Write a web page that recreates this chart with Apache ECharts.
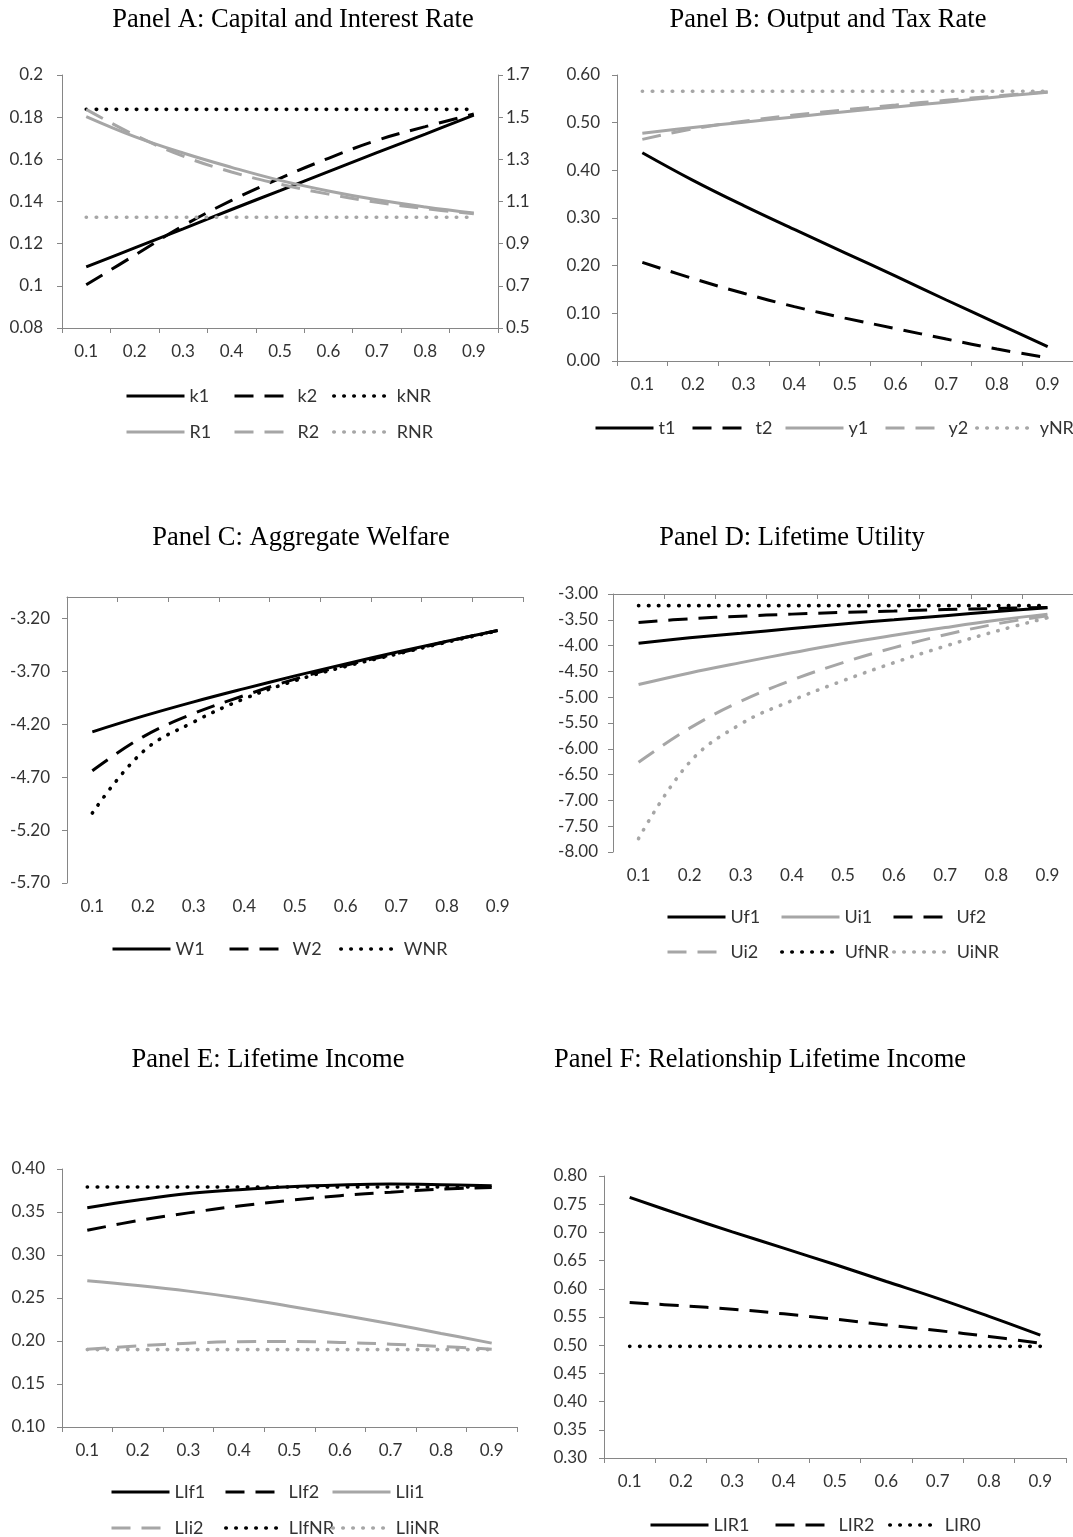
<!DOCTYPE html>
<html><head><meta charset="utf-8">
<script src="https://cdn.jsdelivr.net/npm/echarts@6/dist/echarts.min.js"></script>
<style>html,body{margin:0;padding:0;background:#fff}#c{width:1073px;height:1537px}</style>
</head><body><div id="c"></div>
<script>
// ---------- data ----------
const categories = ['0.1','0.2','0.3','0.4','0.5','0.6','0.7','0.8','0.9'];

// Panel A
const k1  = [0.109, 0.118, 0.127, 0.1362, 0.1452, 0.1542, 0.1632, 0.172, 0.181];
const k2  = [0.1005, 0.1145, 0.1285, 0.1405, 0.151, 0.1605, 0.169, 0.1755, 0.1815];
const kNR = [0.1837, 0.1837, 0.1837, 0.1837, 0.1837, 0.1837, 0.1837, 0.1837, 0.1837];
const R1  = [1.503, 1.408, 1.330, 1.262, 1.200, 1.150, 1.108, 1.074, 1.045];
const R2  = [1.537, 1.415, 1.315, 1.240, 1.182, 1.135, 1.096, 1.066, 1.042];
const RNR = [1.025, 1.025, 1.025, 1.025, 1.025, 1.025, 1.025, 1.025, 1.025];

// Panel B
const t1  = [0.437, 0.379, 0.326, 0.276, 0.227, 0.178, 0.128, 0.079, 0.030];
const t2  = [0.207, 0.173, 0.142, 0.114, 0.090, 0.068, 0.046, 0.025, 0.007];
const y1  = [0.478, 0.490, 0.501, 0.512, 0.523, 0.533, 0.543, 0.554, 0.564];
const y2  = [0.465, 0.487, 0.503, 0.516, 0.527, 0.537, 0.547, 0.556, 0.565];
const yNR = [0.566, 0.566, 0.566, 0.566, 0.566, 0.566, 0.566, 0.566, 0.566];

// Panel C
const W1  = [-4.273, -4.125, -3.99, -3.865, -3.745, -3.632, -3.522, -3.418, -3.316];
const W2  = [-4.64, -4.32, -4.10, -3.93, -3.775, -3.645, -3.535, -3.42, -3.316];
const WNR = [-5.04, -4.46, -4.18, -3.96, -3.79, -3.655, -3.54, -3.426, -3.32];

// Panel D
const Uf1  = [-3.955, -3.85, -3.76, -3.67, -3.58, -3.50, -3.42, -3.34, -3.265];
const Ui1  = [-4.755, -4.53, -4.33, -4.14, -3.96, -3.80, -3.65, -3.51, -3.39];
const Uf2  = [-3.55, -3.48, -3.43, -3.39, -3.355, -3.33, -3.30, -3.28, -3.26];
const Ui2  = [-6.26, -5.60, -5.08, -4.67, -4.33, -4.04, -3.79, -3.58, -3.42];
const UfNR = [-3.226, -3.226, -3.226, -3.226, -3.226, -3.226, -3.226, -3.226, -3.226];
const UiNR = [-7.74, -6.26, -5.52, -5.065, -4.68, -4.33, -4.01, -3.72, -3.46];

// Panel E
const LIf1  = [0.355, 0.364, 0.3715, 0.376, 0.3795, 0.3815, 0.3825, 0.3818, 0.3805];
const LIf2  = [0.3287, 0.340, 0.349, 0.357, 0.3635, 0.369, 0.373, 0.3765, 0.3786];
const LIi1  = [0.270, 0.2645, 0.258, 0.250, 0.2405, 0.2305, 0.220, 0.2088, 0.1975];
const LIi2  = [0.1904, 0.1943, 0.1975, 0.1992, 0.1994, 0.1984, 0.1963, 0.1937, 0.1905];
const LIfNR = [0.379, 0.379, 0.379, 0.379, 0.379, 0.379, 0.379, 0.379, 0.379];
const LIiNR = [0.19, 0.19, 0.19, 0.19, 0.19, 0.19, 0.19, 0.19, 0.19];

// Panel F
const LIR1 = [0.762, 0.731, 0.701, 0.672, 0.643, 0.613, 0.583, 0.551, 0.518];
const LIR2 = [0.5757, 0.570, 0.5639, 0.5556, 0.5462, 0.536, 0.526, 0.5155, 0.5037];
const LIR0 = [0.498, 0.498, 0.498, 0.498, 0.498, 0.498, 0.498, 0.498, 0.498];

const titles = ['Panel A: Capital and Interest Rate', 'Panel B: Output and Tax Rate',
  'Panel C: Aggregate Welfare', 'Panel D: Lifetime Utility',
  'Panel E: Lifetime Income', 'Panel F: Relationship Lifetime Income'];

// ---------- styling ----------
const BLACK = '#000000', GRAY = '#a6a6a6';
const AX = '#868686', TXT = '#333333', FONT = 'Lato';
const DASH = [19, 11], DOT = [0.5, 9.5];

function styleOf(kind, color) {
  if (kind === 'solid') return {color, width: 3, type: 'solid', cap: 'butt'};
  if (kind === 'dash') return {color, width: 3, type: DASH, cap: 'butt'};
  return {color, width: 3.6, type: DOT, cap: 'round'};
}
function ser(name, data, xi, yi, kind, color) {
  return {type: 'line', name, data, xAxisIndex: xi, yAxisIndex: yi, smooth: 0.4,
    symbol: 'none', lineStyle: styleOf(kind, color), itemStyle: {color}, emphasis: {disabled: true}};
}
function leg(name, left, cy, kind, color, w) {
  const ls = styleOf(kind, color);
  return {data: [name], left, top: cy - 9, padding: 0, itemWidth: w || 58, itemHeight: 14,
    selectedMode: false,
    textStyle: {fontFamily: FONT, fontSize: 18, color: TXT},
    lineStyle: {width: ls.width, type: ls.type, cap: ls.cap, color: color},
    itemStyle: {color: 'rgba(0,0,0,0)', borderColor: 'rgba(0,0,0,0)', borderWidth: 0}};
}
function title(text, cx, top) {
  return {text, left: cx, top, textAlign: 'center', padding: 0,
    textStyle: {fontFamily: 'Liberation Serif', fontSize: 26.5, fontWeight: 'normal', color: '#000'}};
}
const lbl = {fontFamily: FONT, fontSize: 17, color: TXT};
function xCat(gi, opts) {
  return Object.assign({type: 'category', gridIndex: gi, data: categories, boundaryGap: true,
    axisLine: {show: true, onZero: false, lineStyle: {color: AX}},
    axisTick: {show: true, length: 5, lineStyle: {color: AX}},
    axisLabel: Object.assign({margin: 15}, lbl), splitLine: {show: false}}, opts || {});
}
function yVal(gi, min, max, interval, fmt, margin, opts) {
  return Object.assign({type: 'value', gridIndex: gi, min, max, interval,
    axisLine: {show: true, lineStyle: {color: AX}},
    axisTick: {show: true, length: 5, lineStyle: {color: AX}},
    axisLabel: Object.assign({margin, formatter: fmt}, lbl), splitLine: {show: false}}, opts || {});
}
const f2 = v => v.toFixed(2);
const fA = v => String(parseFloat(v.toFixed(2)));
const f1 = v => v.toFixed(1);

const option = {
  backgroundColor: '#ffffff',
  animation: false,
  title: [
    title(titles[0], 293, 7), title(titles[1], 828, 7),
    title(titles[2], 301, 525), title(titles[3], 792, 525),
    title(titles[4], 268, 1047), title(titles[5], 760, 1047)
  ],
  grid: [
    {left: 62, top: 75, width: 436, height: 253},
    {left: 617, top: 75, width: 459, height: 286},
    {left: 67, top: 597, width: 456, height: 286},
    {left: 613, top: 594, width: 465, height: 258},
    {left: 62, top: 1169, width: 455, height: 258},
    {left: 604, top: 1176, width: 462, height: 282}
  ],
  xAxis: [
    xCat(0),
    xCat(1),
    xCat(2, {position: 'bottom', axisLine: {show: false}, axisTick: {show: false}}),
    xCat(2, {position: 'top', axisLabel: {show: false}, axisTick: {show: true, inside: true, length: 5, lineStyle: {color: AX}}}),
    xCat(3, {position: 'bottom', axisLine: {show: false}, axisTick: {show: false}}),
    xCat(3, {position: 'top', axisLabel: {show: false}, axisTick: {show: true, inside: true, length: 5, lineStyle: {color: AX}}}),
    xCat(4),
    xCat(5)
  ],
  yAxis: [
    yVal(0, 0.08, 0.2, 0.02, fA, 19),
    yVal(0, 0.5, 1.7, 0.2, f1, 8, {position: 'right'}),
    yVal(1, 0, 0.6, 0.1, f2, 17),
    yVal(2, -5.7, -3.0, 0.5, f2, 17, {axisLabel: Object.assign({margin: 17, formatter: f2, showMaxLabel: false}, lbl)}),
    yVal(3, -8, -3, 0.5, f2, 15),
    yVal(4, 0.1, 0.4, 0.05, f2, 17),
    yVal(5, 0.3, 0.8, 0.05, f2, 17)
  ],
  legend: [
    leg('k1', 125, 396, 'solid', BLACK), leg('k2', 233, 396, 'dash', BLACK), leg('kNR', 332, 396, 'dot', BLACK),
    leg('R1', 125, 432, 'solid', GRAY), leg('R2', 233, 432, 'dash', GRAY), leg('RNR', 332, 432, 'dot', GRAY),
    leg('t1', 594, 428, 'solid', BLACK), leg('t2', 691, 428, 'dash', BLACK), leg('y1', 784, 428, 'solid', GRAY),
    leg('y2', 884, 428, 'dash', GRAY), leg('yNR', 975, 428, 'dot', GRAY),
    leg('W1', 111, 949, 'solid', BLACK), leg('W2', 228, 949, 'dash', BLACK), leg('WNR', 339, 949, 'dot', BLACK),
    leg('Uf1', 666, 917, 'solid', BLACK), leg('Ui1', 780, 917, 'solid', GRAY), leg('Uf2', 892, 917, 'dash', BLACK),
    leg('Ui2', 666, 952, 'dash', GRAY), leg('UfNR', 780, 952, 'dot', BLACK), leg('UiNR', 892, 952, 'dot', GRAY),
    leg('LIf1', 110, 1492, 'solid', BLACK), leg('LIf2', 224, 1492, 'dash', BLACK), leg('LIi1', 331, 1492, 'solid', GRAY),
    leg('LIi2', 110, 1528, 'dash', GRAY), leg('LIfNR', 224, 1528, 'dot', BLACK), leg('LIiNR', 331, 1528, 'dot', GRAY),
    leg('LIR1', 649, 1525, 'solid', BLACK), leg('LIR2', 774, 1525, 'dash', BLACK), leg('LIR0', 888, 1525, 'dot', BLACK, 50)
  ],
  series: [
    ser('k1', k1, 0, 0, 'solid', BLACK), ser('k2', k2, 0, 0, 'dash', BLACK), ser('kNR', kNR, 0, 0, 'dot', BLACK),
    ser('R1', R1, 0, 1, 'solid', GRAY), ser('R2', R2, 0, 1, 'dash', GRAY), ser('RNR', RNR, 0, 1, 'dot', GRAY),
    ser('t1', t1, 1, 2, 'solid', BLACK), ser('t2', t2, 1, 2, 'dash', BLACK), ser('y1', y1, 1, 2, 'solid', GRAY),
    ser('y2', y2, 1, 2, 'dash', GRAY), ser('yNR', yNR, 1, 2, 'dot', GRAY),
    ser('W1', W1, 2, 3, 'solid', BLACK), ser('W2', W2, 2, 3, 'dash', BLACK), ser('WNR', WNR, 2, 3, 'dot', BLACK),
    ser('Uf1', Uf1, 4, 4, 'solid', BLACK), ser('Ui1', Ui1, 4, 4, 'solid', GRAY), ser('Uf2', Uf2, 4, 4, 'dash', BLACK),
    ser('Ui2', Ui2, 4, 4, 'dash', GRAY), ser('UfNR', UfNR, 4, 4, 'dot', BLACK), ser('UiNR', UiNR, 4, 4, 'dot', GRAY),
    ser('LIf1', LIf1, 6, 5, 'solid', BLACK), ser('LIf2', LIf2, 6, 5, 'dash', BLACK), ser('LIi1', LIi1, 6, 5, 'solid', GRAY),
    ser('LIi2', LIi2, 6, 5, 'dash', GRAY), ser('LIfNR', LIfNR, 6, 5, 'dot', BLACK), ser('LIiNR', LIiNR, 6, 5, 'dot', GRAY),
    ser('LIR1', LIR1, 7, 6, 'solid', BLACK), ser('LIR2', LIR2, 7, 6, 'dash', BLACK), ser('LIR0', LIR0, 7, 6, 'dot', BLACK)
  ]
};
const chart = echarts.init(document.getElementById('c'), null, {renderer: 'canvas'});
chart.setOption(option);
</script></body></html>
